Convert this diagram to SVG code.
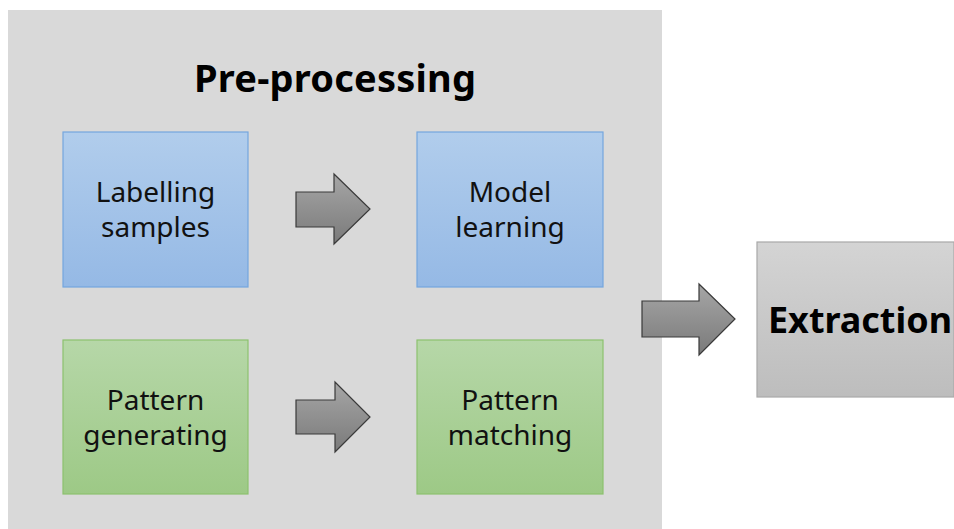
<svg xmlns="http://www.w3.org/2000/svg" width="954" height="529" viewBox="0 0 954 529">
  <defs>
    <linearGradient id="gBlue" x1="0" y1="0" x2="0" y2="1">
      <stop offset="0" stop-color="#B1CDEC"/>
      <stop offset="1" stop-color="#95B9E5"/>
    </linearGradient>
    <linearGradient id="gGreen" x1="0" y1="0" x2="0" y2="1">
      <stop offset="0" stop-color="#B6D7A8"/>
      <stop offset="1" stop-color="#9DC986"/>
    </linearGradient>
    <linearGradient id="gArrow" x1="0" y1="0" x2="0" y2="1">
      <stop offset="0" stop-color="#A6A6A6"/>
      <stop offset="1" stop-color="#7A7A7A"/>
    </linearGradient>
    <linearGradient id="gGrey" x1="0" y1="0" x2="0" y2="1">
      <stop offset="0" stop-color="#D4D4D4"/>
      <stop offset="1" stop-color="#BDBDBD"/>
    </linearGradient>
  </defs>
  <style>
    .panel { fill: #D9D9D9; }
    .blue { fill: url(#gBlue); stroke: #74A6DE; stroke-width: 1.2; }
    .green { fill: url(#gGreen); stroke: #8CC16E; stroke-width: 1.2; }
    .grey { fill: url(#gGrey); stroke: #A8A8A8; stroke-width: 1.2; }
    .arrow { fill: url(#gArrow); stroke: #3A3A3A; stroke-width: 1.2; stroke-linejoin: miter; }
    .lbl { font-family: "Noto Sans", "Open Sans", "Liberation Sans", sans-serif; font-size: 28px; fill: #111; text-anchor: middle; }
    .title { font-family: "Noto Sans", "Liberation Sans", sans-serif; font-size: 38px; font-weight: bold; fill: #000; text-anchor: middle; }
  </style>

  <!-- pre-processing stage background -->
  <rect class="panel" x="8" y="10" width="654" height="519"/>
  <text class="title" x="335" y="92" textLength="282" lengthAdjust="spacing">Pre-processing</text>

  <g id="labelling-samples">
    <rect class="blue" x="63" y="132" width="185" height="155"/>
    <text class="lbl" x="155.5" y="202">Labelling</text>
    <text class="lbl" x="155.5" y="237">samples</text>
  </g>

  <g id="model-learning">
    <rect class="blue" x="417" y="132" width="186" height="155"/>
    <text class="lbl" x="510" y="202">Model</text>
    <text class="lbl" x="510" y="237">learning</text>
  </g>

  <g id="pattern-generating">
    <rect class="green" x="63" y="340" width="185" height="154"/>
    <text class="lbl" x="155.5" y="410">Pattern</text>
    <text class="lbl" x="155.5" y="445">generating</text>
  </g>

  <g id="pattern-matching">
    <rect class="green" x="417" y="340" width="186" height="154"/>
    <text class="lbl" x="510" y="410">Pattern</text>
    <text class="lbl" x="510" y="445">matching</text>
  </g>

  <g id="extraction">
    <rect class="grey" x="757" y="242" width="197" height="155"/>
    <text class="title" x="768" y="333" textLength="184" lengthAdjust="spacingAndGlyphs" style="text-anchor:start;font-size:36px">Extraction</text>
  </g>

  <!-- block arrows between stages -->
  <g id="connectors">
    <path class="arrow" d="M296,192 H334 V174 L370,209 L334,244 V227 H296 Z"/>
    <path class="arrow" d="M296,400 H335 V382 L370,417 L335,452 V434 H296 Z"/>
    <path class="arrow" d="M642,301 H699 V284 L735,319 L699,355 V337 H642 Z"/>
  </g>
</svg>
